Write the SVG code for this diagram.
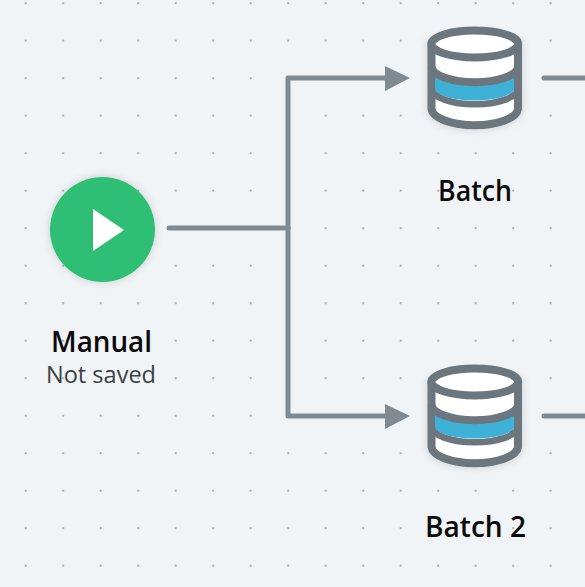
<svg xmlns="http://www.w3.org/2000/svg" width="585" height="587" viewBox="0 0 585 587">
<style>
.title{font-family:"Open Sans","Noto Sans","Liberation Sans",sans-serif;font-weight:600;font-size:28px;fill:#0b0b0b;text-anchor:middle}
.sub{font-family:"Open Sans","Noto Sans","Liberation Sans",sans-serif;font-size:23.500px;fill:#3c4146;text-anchor:middle}
.wire{fill:none;stroke:#7f8a93;stroke-width:5;stroke-linecap:round;stroke-linejoin:round}
.head{fill:#7f8a93}
.dbl{fill:none;stroke:#6c767e;stroke-width:8}
</style>
<defs>
<pattern id="dots" x="0" y="3.2" width="37.5" height="37.5" patternUnits="userSpaceOnUse" patternTransform="translate(25.7 -1)">
<circle cx="0" cy="1" r="1.1" fill="#a4aaaf"/><circle cx="37.5" cy="1" r="1.1" fill="#a4aaaf"/>
</pattern>
<filter id="soft" x="-30%" y="-30%" width="160%" height="160%"><feDropShadow dx="0" dy="0" stdDeviation="4" flood-color="#000" flood-opacity="0.16"/></filter>
<g id="db">
<path d="M431.500 44V109A43.300 17 0 0 0 518 109V44Z" fill="#fff" stroke="#6c767e" stroke-width="8" stroke-linejoin="round" filter="url(#soft)"/>
<path d="M435 70A39.800 14 0 0 0 514 70V90A39.800 12 0 0 1 435 90Z" fill="#3fb0d6"/>
<ellipse class="dbl" cx="474.800" cy="44" rx="43.400" ry="13.500" style="fill:#fff"/>
<path class="dbl" d="M431.500 67A43.300 16 0 0 0 518 67"/>
<path class="dbl" style="stroke-width:6.500" d="M431.500 89A43.300 16 0 0 0 518 89"/>
</g>
</defs>
<rect width="585" height="587" fill="#f1f4f7"/>
<rect width="585" height="587" fill="url(#dots)"/>
<g id="connectors">
<path class="wire" d="M169 228H288"/>
<path class="wire" d="M387 78H288V416H387"/>
<polygon class="head" points="385,66 410,78 385,91"/>
<polygon class="head" points="385,404 410,416 385,429"/>
<path class="wire" d="M544 78H590"/>
<path class="wire" d="M544 416H590"/>
</g>
<g id="node-manual">
<circle cx="102.500" cy="229.500" r="52.500" fill="#2dbf74" filter="url(#soft)"/>
<polygon points="93,209 124,230 93,251" fill="#fff"/>
<text class="title" x="101.500" y="351.500" textLength="101" lengthAdjust="spacingAndGlyphs">Manual</text>
<text class="sub" x="101" y="383" textLength="110" lengthAdjust="spacingAndGlyphs">Not saved</text>
</g>
<g id="node-batch">
<use href="#db"/>
<text class="title" x="475" y="201" textLength="74" lengthAdjust="spacingAndGlyphs">Batch</text>
</g>
<g id="node-batch2">
<use href="#db" y="338"/>
<text class="title" x="475.500" y="537" textLength="101" lengthAdjust="spacingAndGlyphs">Batch 2</text>
</g>
</svg>
